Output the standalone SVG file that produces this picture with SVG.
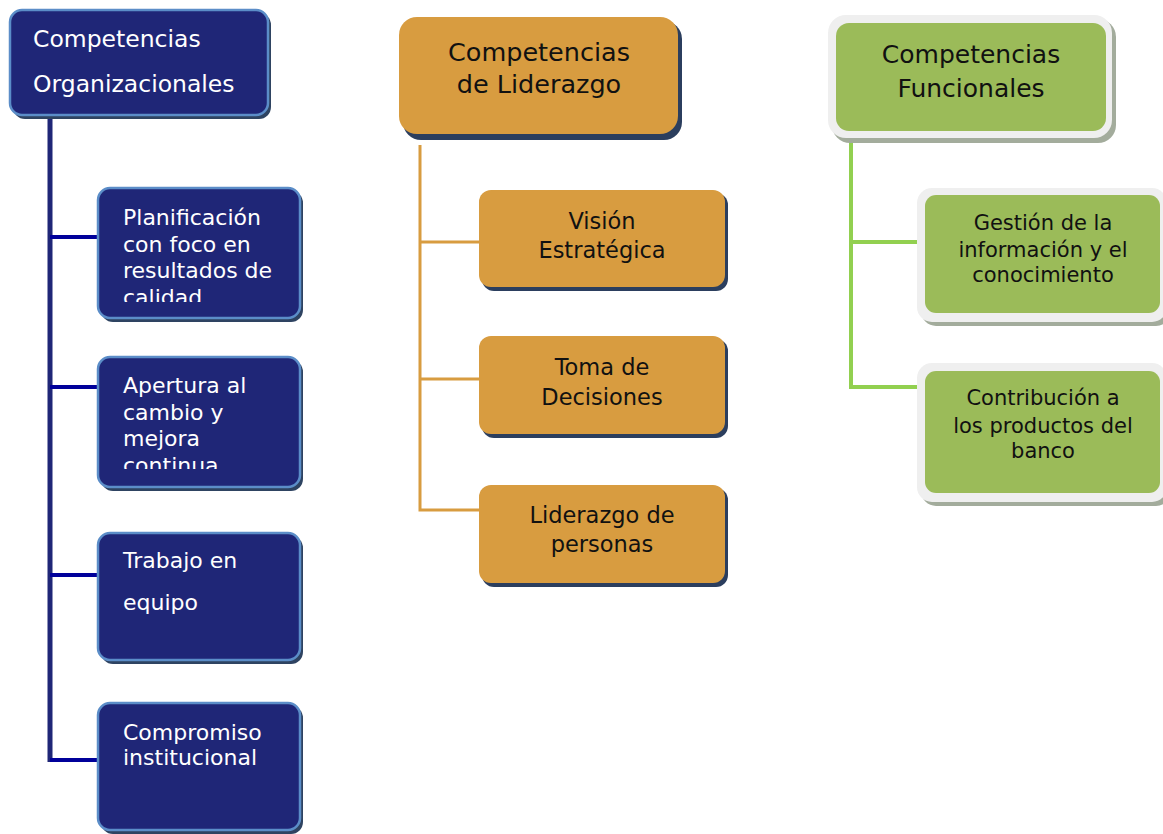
<svg xmlns="http://www.w3.org/2000/svg" width="1163" height="834" viewBox="0 0 1163 834">
<style>
text{font-family:"DejaVu Sans","Liberation Sans",sans-serif}
.bshadow{fill:#2E4361}
.bbox{fill:#1F2677;stroke:#5B8DC8;stroke-width:2.5}
.bt{fill:#FFFFFF;font-size:22px}
.bh{fill:#FFFFFF;font-size:23.5px}
.oshadow{fill:#2B3E5E}
.obox{fill:#D89C40}
.ot{fill:#111111;font-size:22.5px;text-anchor:middle}
.oh{fill:#111111;font-size:25.5px;text-anchor:middle}
.gshadow{fill:#A3AC9C}
.gout{fill:#EFEFEF}
.gbox{fill:#9BBB59}
.gt{fill:#111111;font-size:21px;text-anchor:middle}
.gh{fill:#111111;font-size:25px;text-anchor:middle}
.lb{stroke:#1F2677;stroke-width:5;fill:none}
.lbh{stroke:#00009A;stroke-width:4;fill:none}
.lo{stroke:#D89C40;stroke-width:3;fill:none}
.lg{stroke:#92D050;stroke-width:4;fill:none}
</style>
<defs>
<clipPath id="c1"><rect x="98" y="188" width="202" height="114"/></clipPath>
<clipPath id="c2"><rect x="98" y="357" width="202" height="112"/></clipPath>
</defs>
<rect width="1163" height="834" fill="#FFFFFF"/>
<g id="connectors">
<line class="lb" x1="50" y1="117" x2="50" y2="762"/>
<line class="lbh" x1="50" y1="237" x2="99" y2="237"/>
<line class="lbh" x1="50" y1="387" x2="99" y2="387"/>
<line class="lbh" x1="50" y1="575" x2="99" y2="575"/>
<line class="lbh" x1="50" y1="760" x2="99" y2="760"/>
<polyline class="lo" points="420,145 420,510 480,510"/>
<line class="lo" x1="420" y1="242" x2="480" y2="242"/>
<line class="lo" x1="420" y1="379" x2="480" y2="379"/>
<polyline class="lg" points="851,138 851,387 920,387"/>
<line class="lg" x1="851" y1="242" x2="920" y2="242"/>
</g>
<g id="org-header">
<rect class="bshadow" x="13" y="13" width="258" height="106" rx="12"/>
<rect class="bbox" x="10" y="10" width="258" height="105" rx="12"/>
<text class="bh" x="33" y="47">Competencias</text>
<text class="bh" x="33" y="92">Organizacionales</text>
</g>
<g id="org-1">
<rect class="bshadow" x="101" y="191" width="202" height="131" rx="12"/>
<rect class="bbox" x="98" y="188" width="202" height="130" rx="12"/>
<g clip-path="url(#c1)">
<text class="bt" x="123" y="225">Planificación</text>
<text class="bt" x="123" y="251.5">con foco en</text>
<text class="bt" x="123" y="278">resultados de</text>
<text class="bt" x="123" y="304.5">calidad</text>
</g>
</g>
<g id="org-2">
<rect class="bshadow" x="101" y="360" width="202" height="131" rx="12"/>
<rect class="bbox" x="98" y="357" width="202" height="130" rx="12"/>
<g clip-path="url(#c2)">
<text class="bt" x="123" y="393">Apertura al</text>
<text class="bt" x="123" y="419.5">cambio y</text>
<text class="bt" x="123" y="446">mejora</text>
<text class="bt" x="123" y="472.5">continua</text>
</g>
</g>
<g id="org-3">
<rect class="bshadow" x="101" y="536" width="202" height="128" rx="12"/>
<rect class="bbox" x="98" y="533" width="202" height="127" rx="12"/>
<text class="bt" x="123" y="568">Trabajo en</text>
<text class="bt" x="123" y="610">equipo</text>
</g>
<g id="org-4">
<rect class="bshadow" x="101" y="706" width="202" height="128" rx="12"/>
<rect class="bbox" x="98" y="703" width="202" height="127" rx="12"/>
<text class="bt" x="123" y="740">Compromiso</text>
<text class="bt" x="123" y="765">institucional</text>
</g>
<g id="lid-header">
<rect class="oshadow" x="403" y="21" width="279" height="119" rx="18"/>
<rect class="obox" x="399" y="17" width="279" height="117" rx="18"/>
<text class="oh" x="539" y="61">Competencias</text>
<text class="oh" x="539" y="93">de Liderazgo</text>
</g>
<g id="lid-1">
<rect class="oshadow" x="482" y="193" width="246" height="98" rx="12"/>
<rect class="obox" x="479" y="190" width="246" height="97" rx="12"/>
<text class="ot" x="602" y="229">Visión</text>
<text class="ot" x="602" y="258">Estratégica</text>
</g>
<g id="lid-2">
<rect class="oshadow" x="482" y="339" width="246" height="99" rx="12"/>
<rect class="obox" x="479" y="336" width="246" height="98" rx="12"/>
<text class="ot" x="602" y="375">Toma de</text>
<text class="ot" x="602" y="405">Decisiones</text>
</g>
<g id="lid-3">
<rect class="oshadow" x="482" y="488" width="246" height="99" rx="12"/>
<rect class="obox" x="479" y="485" width="246" height="98" rx="12"/>
<text class="ot" x="602" y="523">Liderazgo de</text>
<text class="ot" x="602" y="552">personas</text>
</g>
<g id="fun-header">
<rect class="gshadow" x="832" y="19" width="284" height="124" rx="18"/>
<rect class="gout" x="828" y="15" width="284" height="123" rx="18"/>
<rect class="gbox" x="836" y="23" width="270" height="108" rx="13"/>
<text class="gh" x="971" y="63">Competencias</text>
<text class="gh" x="971" y="97">Funcionales</text>
</g>
<g id="fun-1">
<rect class="gshadow" x="921" y="192" width="250" height="134" rx="15"/>
<rect class="gout" x="917" y="188" width="250" height="134" rx="15"/>
<rect class="gbox" x="925" y="195" width="235" height="118" rx="11"/>
<text class="gt" x="1043" y="230">Gestión de la</text>
<text class="gt" x="1043" y="257">información y el</text>
<text class="gt" x="1043" y="282">conocimiento</text>
</g>
<g id="fun-2">
<rect class="gshadow" x="921" y="367" width="250" height="139" rx="15"/>
<rect class="gout" x="917" y="363" width="250" height="139" rx="15"/>
<rect class="gbox" x="925" y="371" width="235" height="122" rx="11"/>
<text class="gt" x="1043" y="405">Contribución a</text>
<text class="gt" x="1043" y="433">los productos del</text>
<text class="gt" x="1043" y="458">banco</text>
</g>
</svg>
